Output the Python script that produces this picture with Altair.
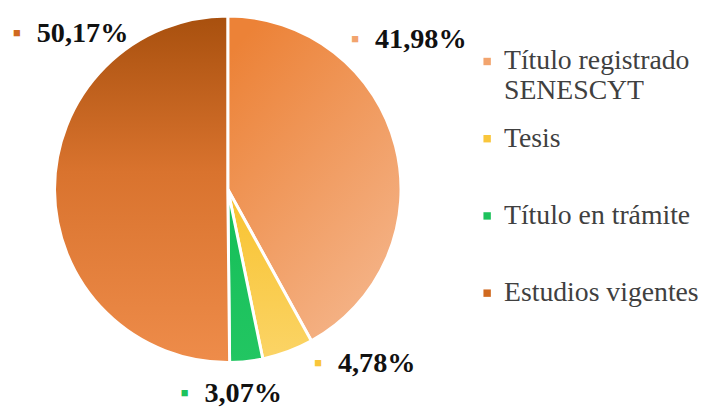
import altair as alt
import pandas as pd

categories = ["Título registrado SENESCYT", "Tesis", "Título en trámite", "Estudios vigentes"]
values = [41.98, 4.78, 3.07, 50.17]
labels = ["41,98%", "4,78%", "3,07%", "50,17%"]
legend_colors = ["#F2A46E", "#F9C63B", "#1DC25C", "#D0691F"]

df = pd.DataFrame({
    "cat": categories,
    "value": values,
    "label": labels,
    "order": list(range(len(categories))),
})

gradients = {
    "Título registrado SENESCYT": alt.Gradient(gradient="linear", x1=0.2, y1=0, x2=0.8, y2=1,
        stops=[alt.GradientStop(color="#EC8237", offset=0), alt.GradientStop(color="#F5B68C", offset=1)]),
    "Tesis": alt.Gradient(gradient="linear", x1=0, y1=0, x2=0, y2=1,
        stops=[alt.GradientStop(color="#F8C22E", offset=0), alt.GradientStop(color="#FBD466", offset=1)]),
    "Título en trámite": alt.Gradient(gradient="linear", x1=0, y1=0, x2=0, y2=1,
        stops=[alt.GradientStop(color="#15BE58", offset=0), alt.GradientStop(color="#22C662", offset=1)]),
    "Estudios vigentes": alt.Gradient(gradient="linear", x1=0, y1=0, x2=0, y2=1,
        stops=[alt.GradientStop(color="#A8500E", offset=0), alt.GradientStop(color="#D9732E", offset=0.45),
               alt.GradientStop(color="#EE8C4A", offset=1)]),
}

# label offsets (style): dx, dy relative to mid-angle anchor
label_offsets = {
    "Título registrado SENESCYT": (-45, -102),
    "Tesis": (42, -12),
    "Título en trámite": (-45, 7),
    "Estudios vigentes": (7, -159),
}

base = alt.Chart(df).transform_joinaggregate(
    total="sum(value)"
).transform_window(
    cum="sum(value)", sort=[alt.SortField("order")]
).transform_calculate(
    start="(datum.cum - datum.value) / datum.total",
    end="datum.cum / datum.total",
    mid="(datum.cum - datum.value / 2) / datum.total",
)

theta_scale = alt.Scale(domain=[0, 1])

legend_layer = base.mark_arc(outerRadius=175, stroke="white", strokeWidth=3).encode(
    theta=alt.Theta("start:Q", scale=theta_scale),
    theta2="end:Q",
    color=alt.Color("cat:N", scale=alt.Scale(domain=categories, range=legend_colors), sort=categories,
        legend=alt.Legend(
            title=None, orient="none", legendX=470, legendY=34, direction="vertical",
            symbolType="square", symbolSize=56, symbolStrokeWidth=0,
            labelFont="Liberation Serif", labelFontSize=28, labelColor="#404040",
            labelLimit=400, labelOffset=3, rowPadding=20, padding=0, gridAlign="all",
            labelExpr="datum.label == 'Título registrado SENESCYT' ? ['Título registrado', 'SENESCYT'] : datum.label",
        )),
)

layers = [legend_layer]
for cat in categories:
    layers.append(
        base.transform_filter(alt.datum.cat == cat).mark_arc(
            outerRadius=175, stroke="white", strokeWidth=3, fill=gradients[cat]
        ).encode(theta=alt.Theta("start:Q", scale=theta_scale), theta2="end:Q")
    )

for cat, color in zip(categories, legend_colors):
    dx, dy = label_offsets[cat]
    sub = base.transform_filter(alt.datum.cat == cat)
    layers.append(
        sub.mark_text(text="■", fontSize=13, color=color, align="center", baseline="middle",
                      dx=dx - 20, dy=dy).encode(
            theta=alt.Theta("mid:Q", scale=theta_scale), radius=alt.value(200))
    )
    layers.append(
        sub.mark_text(font="Liberation Serif", fontWeight="bold", fontSize=28.5, color="#111111",
                      align="left", baseline="middle", dx=dx, dy=dy).encode(
            theta=alt.Theta("mid:Q", scale=theta_scale), radius=alt.value(200), text="label:N")
    )

chart = alt.layer(*layers).properties(width=444, height=354, padding=0).configure_view(
    stroke=None
).configure_legend(labelFont="Liberation Serif", labelFontSize=28, labelColor="#404040")

chart.save("out.html", embed_options={"renderer": "svg", "actions": False})
